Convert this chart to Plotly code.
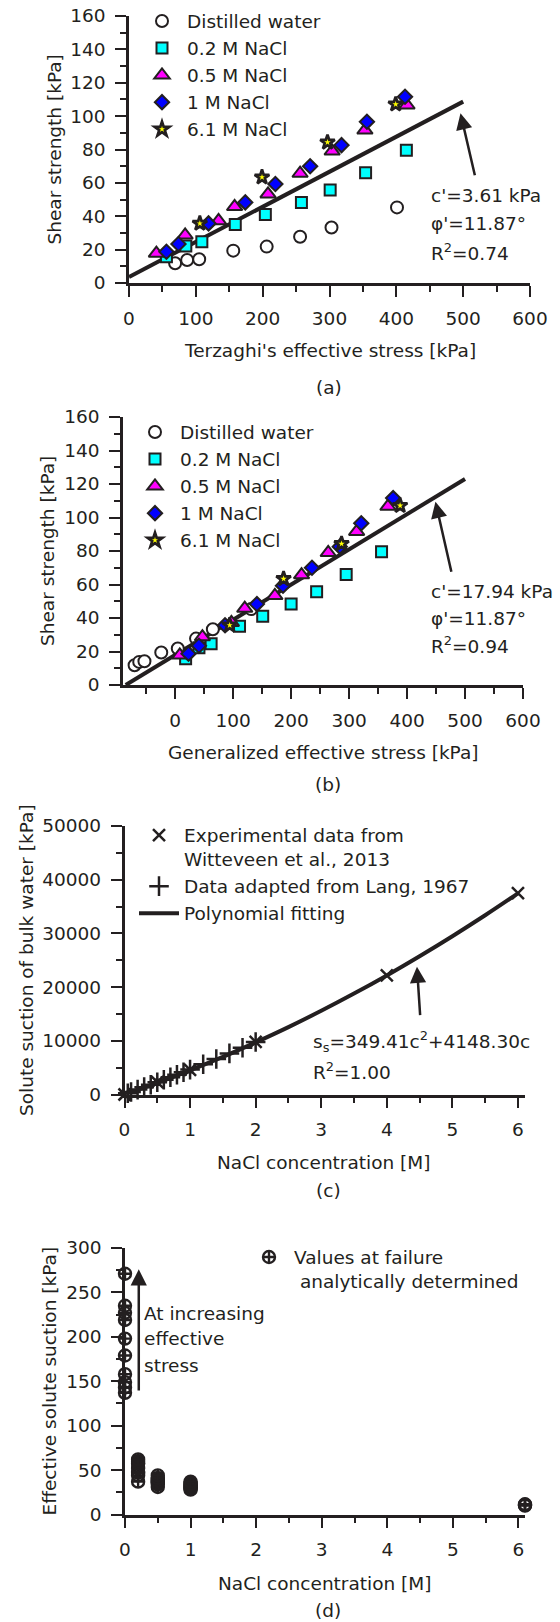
import plotly.graph_objects as go

W, H = 560, 1622
FONT = "DejaVu Sans"
FS = 18.5
INK = "#231f20"

# ---------------- Panel (a): Terzaghi's effective stress ----------------
dw_x_a = [69, 87, 105, 156, 206, 256, 303, 401]
dw_y = [11.8, 13.8, 14.2, 19.4, 21.8, 27.7, 33.3, 45.3]
s02_x_a = [56, 85, 109, 159, 204, 258, 301, 354, 415]
s02_y = [15.7, 22.2, 24.7, 35.1, 41.1, 48.3, 55.7, 66.0, 79.6]
s05_x_a = [41, 84, 134, 158, 208, 256, 304, 353, 416]
s05_y = [17.8, 28.7, 37.3, 45.7, 53.3, 65.7, 79.0, 91.6, 106.6]
s1_x_a = [56, 74, 119, 174, 219, 271, 318, 356, 413]
s1_y = [18.7, 23.4, 35.7, 48.3, 59.3, 70.0, 82.6, 96.6, 111.6]
s61_x_a = [106, 199, 297, 399]
s61_y = [35.7, 63.4, 84.3, 107.1]
fit_x_a = [0, 500]
fit_y_a = [3.61, 108.7]

# ---------------- Panel (b): generalized effective stress ----------------
dw_x_b = [-70, -62, -53, -24, 4.5, 36, 65, 131]
s02_x_b = [18, 41, 62, 111, 151, 200, 244, 295, 356]
s05_x_b = [8, 47, 97, 120, 172, 218, 264, 313, 367]
s1_x_b = [23, 41, 86, 141, 186, 236, 284, 321, 376]
s61_x_b = [94, 187, 287, 388]
fit_x_b = [-85.3, 500]
fit_y_b = [0, 123.0]

# ---------------- Panel (c): solute suction ----------------
wit_c = [0, 0.5, 1, 2, 4, 6]
wit_s = [0, 2300, 4600, 9800, 22200, 37500]
lang_c = [0.05, 0.1, 0.2, 0.3, 0.4, 0.5, 0.6, 0.7, 0.8, 0.9, 1.0, 1.2, 1.4, 1.6, 1.8, 2.0]
lang_s = [235, 462, 915, 1365, 1815, 2275, 2740, 3210, 3680, 4155, 4640, 5620, 6620, 7650, 8700, 9780]
fit_c = [0, 0.5, 1, 1.5, 2, 2.5, 3, 3.5, 4, 4.5, 5, 5.5, 6]
fit_s = [0, 2160, 4500, 6990, 9700, 12550, 15590, 18800, 22180, 25750, 29480, 33380, 37470]

# ---------------- Panel (d): effective solute suction ----------------
d_c = [0] * 10 + [0.2] * 9 + [0.5] * 9 + [1] * 9 + [6.1] * 4
d_s = ([137, 143, 149, 158, 179, 198, 219, 227, 235, 271]
       + [37, 44, 47, 48, 52, 57, 58, 60, 62]
       + [31, 34, 36, 37, 38, 39, 41, 41, 44]
       + [28, 29, 30, 31, 32, 33, 34, 35, 37]
       + [10, 10.5, 11, 11.5])

names = ["Distilled water", "0.2 M NaCl", "0.5 M NaCl", "1 M NaCl", "6.1 M NaCl"]

fig = go.Figure()

def mk(symbol, color, size, lw=2):
    return dict(symbol=symbol, color=color, size=size, line=dict(color=INK, width=lw))

styles = [mk("circle", "white", 12), mk("square", "#00ffff", 11), mk("triangle-up", "#ff00ff", 13.5),
          mk("diamond", "#0000ff", 11), mk("star", "#ffff00", 11, 2.7)]

def add_shear(xs, ys, xa, ya, leg):
    for i, (x, y) in enumerate(zip(xs, ys)):
        fig.add_trace(go.Scatter(x=x, y=y, mode="markers", name=names[i], marker=styles[i],
                                 xaxis=xa, yaxis=ya, legend=leg, cliponaxis=False))

fig.add_trace(go.Scatter(x=fit_x_a, y=fit_y_a, mode="lines", line=dict(color=INK, width=4),
                         showlegend=False, xaxis="x", yaxis="y", cliponaxis=False))
fig.add_trace(go.Scatter(x=fit_x_b, y=fit_y_b, mode="lines", line=dict(color=INK, width=4),
                         showlegend=False, xaxis="x2", yaxis="y2", cliponaxis=False))

add_shear([dw_x_a, s02_x_a, s05_x_a, s1_x_a, s61_x_a], [dw_y, s02_y, s05_y, s1_y, s61_y], "x", "y", "legend")
add_shear([dw_x_b, s02_x_b, s05_x_b, s1_x_b, s61_x_b], [dw_y, s02_y, s05_y, s1_y, s61_y], "x2", "y2", "legend2")

fig.add_trace(go.Scatter(x=wit_c, y=wit_s, mode="markers", name="Experimental data from<br>Witteveen et al., 2013",
                         marker=dict(symbol="x-thin-open", size=12, color=INK, line=dict(color=INK, width=2.5)),
                         xaxis="x3", yaxis="y3", legend="legend3", cliponaxis=False))
fig.add_trace(go.Scatter(x=lang_c, y=lang_s, mode="markers", name="Data adapted from Lang, 1967",
                         marker=dict(symbol="cross-thin-open", size=14, color=INK, line=dict(color=INK, width=2.5)),
                         xaxis="x3", yaxis="y3", legend="legend3", cliponaxis=False))
fig.add_trace(go.Scatter(x=fit_c, y=fit_s, mode="lines", name="Polynomial fitting", line=dict(color=INK, width=4, shape="spline"),
                         xaxis="x3", yaxis="y3", legend="legend3", cliponaxis=False))

fig.add_trace(go.Scatter(x=d_c, y=d_s, mode="markers", name="Values at failure<br>\u00a0analytically determined",
                         marker=dict(symbol="circle-cross-open", size=12, color=INK, line=dict(color=INK, width=2.4)),
                         xaxis="x4", yaxis="y4", legend="legend4", cliponaxis=False))

def dom_x(a, b):
    return [a / W, b / W]

def dom_y(top, bot):
    return [1 - bot / H, 1 - top / H]

def axis(dom, rng, dtick, mdtick, anchor, fmt=None, standoff=6):
    d = dict(domain=dom, range=rng, dtick=dtick, tick0=0, showline=True, linewidth=2.5, linecolor=INK,
             ticks="outside", ticklen=11, tickwidth=2, tickcolor=INK, showgrid=False, zeroline=False,
             tickfont=dict(family=FONT, size=FS, color=INK), anchor=anchor, fixedrange=True,
             ticklabelstandoff=standoff, automargin=False,
             minor=dict(ticks="outside", ticklen=6, tickwidth=2, tickcolor=INK, dtick=mdtick, tick0=0, showgrid=False))
    if fmt:
        d["tickformat"] = fmt
    return d

fig.update_layout(
    width=W, height=H, autosize=False, margin=dict(l=0, r=0, t=0, b=0, autoexpand=False),
    paper_bgcolor="white", plot_bgcolor="white", showlegend=True,
    font=dict(family=FONT, size=FS, color=INK),
    xaxis=axis(dom_x(129, 530), [0, 600], 100, 50, "y", standoff=6),
    yaxis=axis(dom_y(16, 283), [0, 160], 20, 10, "x"),
    xaxis2=axis(dom_x(123, 523), [-90, 600], 100, 50, "y2", standoff=6),
    yaxis2=axis(dom_y(417, 685), [0, 160], 20, 10, "x2"),
    xaxis3=axis(dom_x(124.5, 524.5), [0, 6.1], 1, 0.5, "y3", standoff=6),
    yaxis3=axis(dom_y(826, 1094.5), [0, 50000], 10000, 5000, "x3", fmt="d"),
    xaxis4=axis(dom_x(125, 525), [0, 6.1], 1, 0.5, "y4", standoff=6),
    yaxis4=axis(dom_y(1248, 1514.5), [0, 300], 50, 25, "x4"),
)

def leg(x_px, top_px):
    return dict(x=x_px / W, y=1 - top_px / H, xanchor="left", yanchor="top", bgcolor="rgba(0,0,0,0)",
                borderwidth=0, font=dict(family=FONT, size=FS, color=INK), itemwidth=40,
                valign="top", tracegroupgap=0, traceorder="normal")

fig.update_layout(legend=leg(137, 2.5), legend2=leg(130, 413.5), legend3=leg(134, 816.5), legend4=leg(244, 1238.5))

def txt(x_px, y_px, s, xanchor="left", angle=0):
    fig.add_annotation(x=x_px / W, y=1 - y_px / H, xref="paper", yref="paper", text=s, showarrow=False,
                       xanchor=xanchor, yanchor="middle", textangle=angle,
                       font=dict(family=FONT, size=FS, color=INK))

# panel (a)
txt(329.5, 351, "Terzaghi's effective stress [kPa]", "center")
txt(54.5, 150, "Shear strength [kPa]", "center", -90)
txt(328.6, 387, "(a)", "center")
txt(428.6, 195, "c'=3.61 kPa")
txt(428.6, 223.3, "φ'=11.87°")
txt(428.6, 252, "R<sup>2</sup>=0.74")
# panel (b)
txt(323.7, 752, "Generalized effective stress [kPa]", "center")
txt(47, 551, "Shear strength [kPa]", "center", -90)
txt(328, 785, "(b)", "center")
txt(428.6, 591.7, "c'=17.94 kPa")
txt(428.6, 618.3, "φ'=11.87°")
txt(428.6, 645, "R<sup>2</sup>=0.94")
# panel (c)
txt(324, 1162, "NaCl concentration [M]", "center")
txt(26, 960, "Solute suction of bulk water [kPa]", "center", -90)
txt(328, 1190, "(c)", "center")
txt(310.7, 1041.7, "s<sub>s</sub>=349.41c<sup>2</sup>+4148.30c")
txt(310.7, 1071, "R<sup>2</sup>=1.00")
# panel (d)
txt(325, 1583.3, "NaCl concentration [M]", "center")
txt(48.5, 1381, "Effective solute suction [kPa]", "center", -90)
txt(328, 1610, "(d)", "center")
txt(142, 1313.3, "At increasing")
txt(142, 1338.3, "effective")
txt(142, 1365, "stress")

def arrow(xa, ya, x, y, ax, ay):
    fig.add_annotation(x=x, y=y, ax=ax, ay=ay, xref=xa, yref=ya, axref=xa, ayref=ya, text="",
                       showarrow=True, arrowhead=2, arrowsize=1.3, arrowwidth=2.5, arrowcolor=INK)

arrow("x", "y", 496, 101.7, 518, 63.7)
arrow("x2", "y2", 449, 109.4, 477, 66.7)
arrow("x3", "y3", 4.46, 23800, 4.51, 14500)
arrow("x4", "y4", 0.21, 276, 0.21, 138)

fig.write_html("out.html", config={"displayModeBar": False, "staticPlot": False},
               post_script="document.body.style.margin='0px';document.body.style.padding='0px';")
